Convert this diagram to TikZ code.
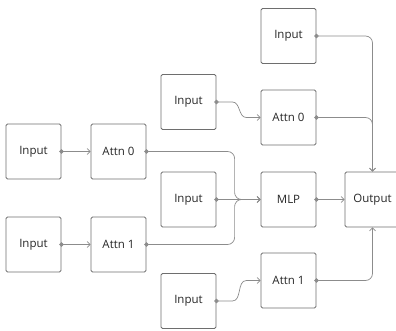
\documentclass[tikz,border=0pt]{standalone}
\usepackage{fontspec}
\setmainfont{Open Sans}
\usetikzlibrary{arrows.meta}
\definecolor{boxGray}{HTML}{6E6E6E}
\definecolor{wireGray}{HTML}{8C8C8C}

\begin{document}
\begin{tikzpicture}[x=1pt,y=-1pt,semithick,
  wire/.style={draw=wireGray,line width=0.7pt,rounded corners=7pt,
    {Circle[length=4.5pt]}-{Straight Barb[length=3pt,width=6pt]},shorten <=-2.25pt},
  swerve/.style={wire,sharp corners}]
  \tikzstyle{block}=[draw=boxGray,line width=0.8pt,rounded corners=1.5pt,
    minimum width=55pt,minimum height=55pt,inner sep=0pt,
    font=\fontsize{11.5}{13}\selectfont,text=black!85]
  \useasboundingbox (0,0) rectangle (396,331);

  \node[block] (inA)   at (33.5,151.5)  {Input};
  \node[block] (attnA) at (118.5,151.5) {Attn 0};
  \node[block] (inB)   at (33.5,244.5)  {Input};
  \node[block] (attnB) at (118.5,244.5) {Attn 1};
  \node[block] (inTop) at (288.5,36)    {Input};
  \node[block] (inC)   at (188.5,102)   {Input};
  \node[block] (attnC) at (288.5,117.5) {Attn 0};
  \node[block] (inD)   at (188.5,199.5) {Input};
  \node[block] (mlp)   at (288.5,199.5) {MLP};
  \node[block] (out)   at (372.5,199.5) {Output};
  \node[block] (attnD) at (288.5,280.5) {Attn 1};
  \node[block] (inE)   at (188.5,301)   {Input};

  \path[wire] (inA.east) -- (attnA.west);
  \path[wire] (inB.east) -- (attnB.west);
  \path[wire] (attnA.east) -| ([xshift=-26pt]mlp.west) -- (mlp.west);
  \path[wire] (attnB.east) -| ([xshift=-26pt]mlp.west) -- (mlp.west);
  \path[wire] (inD.east) -- (mlp.west);
  \path[wire] (mlp.east) -- (out.west);
  \path[swerve] (inC.east) -- ++(16,0) to[out=0,in=180] ++(14,15.5) -- (attnC.west);
  \path[swerve] (inE.east) -- ++(16,0) to[out=0,in=180] ++(14,-20.5) -- (attnD.west);
  \path[wire] (inTop.east) -| (out.north);
  \path[wire] (attnC.east) -| (out.north);
  \path[wire] (attnD.east) -| (out.south);
\end{tikzpicture}
\end{document}
